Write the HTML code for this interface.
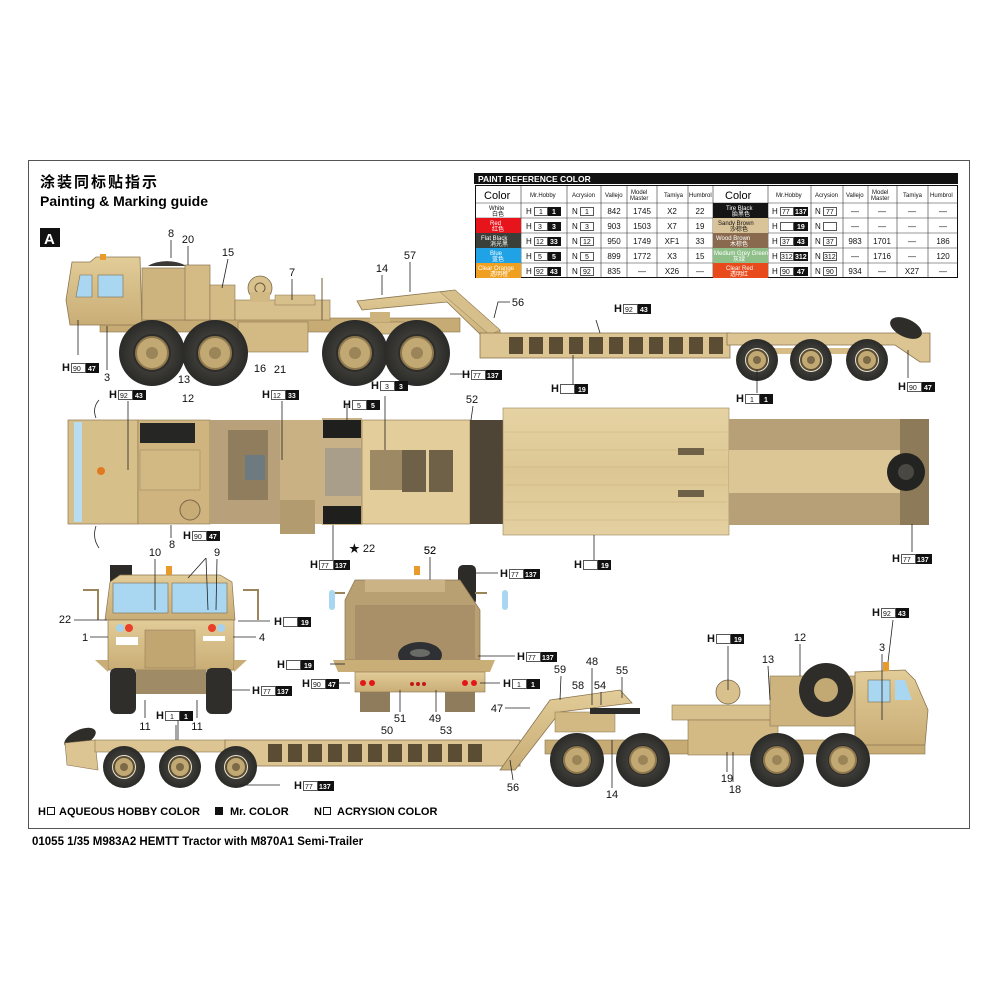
<!DOCTYPE html>
<html><head><meta charset="utf-8">
<style>
html,body{margin:0;padding:0;background:#fff;}
svg{display:block;}
text{font-family:"Liberation Sans","Noto Sans CJK SC",sans-serif;}
.n{font-size:11px;fill:#111;}
.hb{font-size:11px;font-weight:bold;fill:#111;}
.s{font-size:7px;fill:#111;}
.sw{font-size:7px;fill:#fff;font-weight:bold;}
.th{font-size:6px;fill:#111;}
.tc{font-size:8px;fill:#111;}
.ln{stroke:#222;stroke-width:0.8;fill:none;}
</style></head>
<body>
<svg width="1000" height="1000" viewBox="0 0 1000 1000" xmlns="http://www.w3.org/2000/svg">
<defs>
<radialGradient id="tire" cx="50%" cy="50%" r="50%">
<stop offset="0" stop-color="#55534c"/><stop offset="1" stop-color="#2a2a28"/></radialGradient>
<linearGradient id="tan" x1="0" y1="0" x2="0" y2="1">
<stop offset="0" stop-color="#e2cc98"/><stop offset="1" stop-color="#c9ad76"/></linearGradient>
<linearGradient id="wood" x1="0" y1="0" x2="0" y2="1">
<stop offset="0" stop-color="#e6d3a3"/><stop offset="0.5" stop-color="#dcc794"/><stop offset="1" stop-color="#e4d0a0"/></linearGradient>
<g id="bigwheel">
<circle r="33" fill="url(#tire)"/>
<circle r="19" fill="#2e2d2a"/>
<circle r="16" fill="#c2a872" stroke="#8d774d" stroke-width="2"/>
<circle r="6" fill="#9a8458"/>
</g>
<g id="midwheel">
<circle r="27" fill="url(#tire)"/>
<circle r="15" fill="#2e2d2a"/>
<circle r="13" fill="#c2a872" stroke="#8d774d" stroke-width="2"/>
<circle r="5" fill="#9a8458"/>
</g>
<g id="smwheel">
<circle r="21" fill="url(#tire)"/>
<circle r="12" fill="#eae4d0"/>
<circle r="10" fill="#c2a872" stroke="#5a4d34" stroke-width="2"/>
<circle r="4" fill="#7a6a48"/>
</g>
</defs>

<rect x="28.5" y="160.5" width="941" height="668" fill="none" stroke="#555" stroke-width="1"/>

<text x="40" y="187" style="font-size:15px;font-weight:bold;letter-spacing:2px">涂装同标贴指示</text>
<text x="40" y="206" style="font-size:14px;font-weight:bold">Painting &amp; Marking guide</text>
<rect x="40" y="228" width="20" height="19" fill="#111"/>
<text x="44" y="244" style="font-size:15px;font-weight:bold;fill:#fff">A</text>

<!-- PAINT TABLE -->
<rect x="474" y="173" width="484" height="11" fill="#111"/>
<text x="478" y="182" style="font-size:8.5px;font-weight:bold;fill:#fff">PAINT  REFERENCE COLOR</text>
<rect x="475.5" y="185.5" width="482" height="92" fill="#fff" stroke="#111"/>
<g stroke="#333" stroke-width="0.6">
<line x1="521" y1="186" x2="521" y2="278"/><line x1="567" y1="186" x2="567" y2="278"/>
<line x1="601" y1="186" x2="601" y2="278"/><line x1="627" y1="186" x2="627" y2="278"/>
<line x1="657" y1="186" x2="657" y2="278"/><line x1="688" y1="186" x2="688" y2="278"/>
<line x1="713" y1="186" x2="713" y2="278"/><line x1="768" y1="186" x2="768" y2="278"/>
<line x1="811" y1="186" x2="811" y2="278"/><line x1="843" y1="186" x2="843" y2="278"/>
<line x1="868" y1="186" x2="868" y2="278"/><line x1="897" y1="186" x2="897" y2="278"/>
<line x1="928" y1="186" x2="928" y2="278"/>
<line x1="476" y1="203" x2="958" y2="203"/><line x1="476" y1="218" x2="958" y2="218"/>
<line x1="476" y1="233" x2="958" y2="233"/><line x1="476" y1="248" x2="958" y2="248"/>
<line x1="476" y1="263" x2="958" y2="263"/>
</g>
<rect x="476" y="218" width="45" height="15" fill="#e8141c"/>
<rect x="476" y="233" width="45" height="15" fill="#3a3f39"/>
<rect x="476" y="248" width="45" height="15" fill="#1fa3e6"/>
<rect x="476" y="263" width="45" height="15" fill="#f0a020"/>
<rect x="713" y="203" width="55" height="15" fill="#151515"/>
<rect x="713" y="218" width="55" height="15" fill="#d9c49a"/>
<rect x="713" y="233" width="55" height="15" fill="#8a6a4e"/>
<rect x="713" y="248" width="55" height="15" fill="#8fc08a"/>
<rect x="713" y="263" width="55" height="15" fill="#e84a1c"/>
<text x="484" y="199" style="font-size:11px">Color</text>
<text x="530" y="197" class="th">Mr.Hobby</text>
<text x="572" y="197" class="th">Acrysion</text>
<text x="605" y="197" class="th">Vallejo</text>
<text x="631" y="194" class="th">Model</text><text x="630" y="200" class="th">Master</text>
<text x="664" y="197" class="th">Tamiya</text>
<text x="689" y="197" class="th">Humbrol</text>
<text x="725" y="199" style="font-size:11px">Color</text>
<text x="776" y="197" class="th">Mr.Hobby</text>
<text x="815" y="197" class="th">Acrysion</text>
<text x="846" y="197" class="th">Vallejo</text>
<text x="872" y="194" class="th">Model</text><text x="871" y="200" class="th">Master</text>
<text x="903" y="197" class="th">Tamiya</text>
<text x="930" y="197" class="th">Humbrol</text>
<text x="489" y="210" class="th">White</text><text x="492" y="216" class="th">白色</text>
<text x="490" y="225" class="th" style="fill:#fff">Red</text><text x="492" y="231" class="th" style="fill:#fff">红色</text>
<text x="481" y="240" class="th" style="fill:#fff">Flat Black</text><text x="490" y="246" class="th" style="fill:#fff">消光黑</text>
<text x="490" y="255" class="th" style="fill:#fff">Blue</text><text x="492" y="261" class="th" style="fill:#fff">蓝色</text>
<text x="478" y="270" class="th" style="fill:#fff">Clear Orange</text><text x="490" y="276" class="th" style="fill:#fff">透明橙</text>
<text x="726" y="210" class="th" style="fill:#fff">Tire Black</text><text x="732" y="216" class="th" style="fill:#fff">胎黑色</text>
<text x="718" y="225" class="th">Sandy Brown</text><text x="730" y="231" class="th">沙棕色</text>
<text x="716" y="240" class="th" style="fill:#fff">Wood Brown</text><text x="730" y="246" class="th" style="fill:#fff">木棕色</text>
<text x="714" y="255" class="th" style="fill:#fff">Medium Grey Green</text><text x="733" y="261" class="th" style="fill:#fff">灰绿</text>
<text x="726" y="270" class="th" style="fill:#fff">Clear Red</text><text x="730" y="276" class="th" style="fill:#fff">透明红</text>
<g class="tc">
<text x="526" y="214">H</text><rect x="534.5" y="207.5" width="13" height="8" fill="#fff" stroke="#111" stroke-width="0.7"/><rect x="548" y="207" width="13" height="9" fill="#111"/>
<text x="526" y="229">H</text><rect x="534.5" y="222.5" width="13" height="8" fill="#fff" stroke="#111" stroke-width="0.7"/><rect x="548" y="222" width="13" height="9" fill="#111"/>
<text x="526" y="244">H</text><rect x="534.5" y="237.5" width="13" height="8" fill="#fff" stroke="#111" stroke-width="0.7"/><rect x="548" y="237" width="13" height="9" fill="#111"/>
<text x="526" y="259">H</text><rect x="534.5" y="252.5" width="13" height="8" fill="#fff" stroke="#111" stroke-width="0.7"/><rect x="548" y="252" width="13" height="9" fill="#111"/>
<text x="526" y="274">H</text><rect x="534.5" y="267.5" width="13" height="8" fill="#fff" stroke="#111" stroke-width="0.7"/><rect x="548" y="267" width="13" height="9" fill="#111"/>
</g>
<g class="s">
<text x="539" y="214">1</text><text x="538" y="229">3</text><text x="536" y="244">12</text><text x="538" y="259">5</text><text x="536" y="274">92</text>
</g>
<g class="sw">
<text x="552" y="214">1</text><text x="552" y="229">3</text><text x="550" y="244">33</text><text x="552" y="259">5</text><text x="550" y="274">43</text>
</g>
<g class="tc">
<text x="572" y="214">N</text><rect x="580.5" y="207.5" width="13" height="8" fill="#fff" stroke="#111" stroke-width="0.7"/>
<text x="572" y="229">N</text><rect x="580.5" y="222.5" width="13" height="8" fill="#fff" stroke="#111" stroke-width="0.7"/>
<text x="572" y="244">N</text><rect x="580.5" y="237.5" width="13" height="8" fill="#fff" stroke="#111" stroke-width="0.7"/>
<text x="572" y="259">N</text><rect x="580.5" y="252.5" width="13" height="8" fill="#fff" stroke="#111" stroke-width="0.7"/>
<text x="572" y="274">N</text><rect x="580.5" y="267.5" width="13" height="8" fill="#fff" stroke="#111" stroke-width="0.7"/>
</g>
<g class="s"><text x="585" y="214">1</text><text x="585" y="229">3</text><text x="583" y="244">12</text><text x="585" y="259">5</text><text x="583" y="274">92</text></g>
<g class="tc" text-anchor="middle">
<text x="614" y="214">842</text><text x="642" y="214">1745</text><text x="672" y="214">X2</text><text x="700" y="214">22</text>
<text x="614" y="229">903</text><text x="642" y="229">1503</text><text x="672" y="229">X7</text><text x="700" y="229">19</text>
<text x="614" y="244">950</text><text x="642" y="244">1749</text><text x="672" y="244">XF1</text><text x="700" y="244">33</text>
<text x="614" y="259">899</text><text x="642" y="259">1772</text><text x="672" y="259">X3</text><text x="700" y="259">15</text>
<text x="614" y="274">835</text><text x="642" y="274">—</text><text x="672" y="274">X26</text><text x="700" y="274">—</text>
</g>
<g class="tc">
<text x="772" y="214">H</text><rect x="780.5" y="207.5" width="13" height="8" fill="#fff" stroke="#111" stroke-width="0.7"/><rect x="794" y="207" width="14" height="9" fill="#111"/>
<text x="772" y="229">H</text><rect x="780.5" y="222.5" width="13" height="8" fill="#fff" stroke="#111" stroke-width="0.7"/><rect x="794" y="222" width="14" height="9" fill="#111"/>
<text x="772" y="244">H</text><rect x="780.5" y="237.5" width="13" height="8" fill="#fff" stroke="#111" stroke-width="0.7"/><rect x="794" y="237" width="14" height="9" fill="#111"/>
<text x="772" y="259">H</text><rect x="780.5" y="252.5" width="13" height="8" fill="#fff" stroke="#111" stroke-width="0.7"/><rect x="794" y="252" width="14" height="9" fill="#111"/>
<text x="772" y="274">H</text><rect x="780.5" y="267.5" width="13" height="8" fill="#fff" stroke="#111" stroke-width="0.7"/><rect x="794" y="267" width="14" height="9" fill="#111"/>
</g>
<g class="s"><text x="782" y="214">77</text><text x="782" y="244">37</text><text x="781" y="259">312</text><text x="782" y="274">90</text></g>
<g class="sw"><text x="795" y="214">137</text><text x="797" y="229">19</text><text x="797" y="244">43</text><text x="795" y="259">312</text><text x="797" y="274">47</text></g>
<g class="tc">
<text x="815" y="214">N</text><rect x="823.5" y="207.5" width="13" height="8" fill="#fff" stroke="#111" stroke-width="0.7"/>
<text x="815" y="229">N</text><rect x="823.5" y="222.5" width="13" height="8" fill="#fff" stroke="#111" stroke-width="0.7"/>
<text x="815" y="244">N</text><rect x="823.5" y="237.5" width="13" height="8" fill="#fff" stroke="#111" stroke-width="0.7"/>
<text x="815" y="259">N</text><rect x="823.5" y="252.5" width="13" height="8" fill="#fff" stroke="#111" stroke-width="0.7"/>
<text x="815" y="274">N</text><rect x="823.5" y="267.5" width="13" height="8" fill="#fff" stroke="#111" stroke-width="0.7"/>
</g>
<g class="s"><text x="826" y="214">77</text><text x="826" y="244">37</text><text x="824" y="259">312</text><text x="826" y="274">90</text></g>
<g class="tc" text-anchor="middle">
<text x="855" y="214">—</text><text x="882" y="214">—</text><text x="912" y="214">—</text><text x="943" y="214">—</text>
<text x="855" y="229">—</text><text x="882" y="229">—</text><text x="912" y="229">—</text><text x="943" y="229">—</text>
<text x="855" y="244">983</text><text x="882" y="244">1701</text><text x="912" y="244">—</text><text x="943" y="244">186</text>
<text x="855" y="259">—</text><text x="882" y="259">1716</text><text x="912" y="259">—</text><text x="943" y="259">120</text>
<text x="855" y="274">934</text><text x="882" y="274">—</text><text x="912" y="274">X27</text><text x="943" y="274">—</text>
</g>

<!-- ================= TOP SIDE VIEW ================= -->
<g>
<rect x="100" y="318" width="360" height="14" fill="#c7ab74" stroke="#8a7550" stroke-width="0.6"/>
<path d="M72 262 L90 262 L96 257 L140 257 L142 325 L70 325 L66 300 Z" fill="url(#tan)" stroke="#8a7550" stroke-width="0.8"/>
<path d="M80 275 L92 275 L92 297 L76 297 Z" fill="#a9d6f0" stroke="#7d6d4e" stroke-width="0.6"/>
<rect x="98" y="275" width="25" height="22" fill="#a9d6f0" stroke="#7d6d4e" stroke-width="0.6"/>
<rect x="100" y="254" width="6" height="6" fill="#e89a2a"/>
<rect x="142" y="268" width="50" height="52" fill="#cdb37e" stroke="#8a7550" stroke-width="0.7"/>
<path d="M148 266 A25 14 0 0 1 186 266 Z" fill="#3a3936"/>
<rect x="185" y="265" width="25" height="55" fill="#d4bb86" stroke="#8a7550" stroke-width="0.7"/>
<rect x="210" y="285" width="25" height="35" fill="#d4bb86" stroke="#8a7550" stroke-width="0.6"/>
<rect x="235" y="300" width="95" height="20" fill="#d8c08c" stroke="#8a7550" stroke-width="0.6"/>
<circle cx="260" cy="288" r="12" fill="#d9c18d" stroke="#7a6748" stroke-width="0.8"/>
<circle cx="260" cy="288" r="5" fill="none" stroke="#6a5a3c"/>
<rect x="250" y="292" width="20" height="10" fill="#d2b983"/>
<rect x="275" y="295" width="40" height="10" fill="#d8c08c" stroke="#8a7550" stroke-width="0.5"/>
<line x1="322" y1="278" x2="322" y2="320" stroke="#6f5d3e"/>
<rect x="238" y="322" width="70" height="30" fill="#d3ba85" stroke="#8a7550" stroke-width="0.6"/>
<rect x="345" y="322" width="60" height="12" fill="#d2b883" stroke="#8a7550" stroke-width="0.6"/>
<rect x="370" y="312" width="20" height="10" fill="#cdb37e"/>
<use href="#bigwheel" x="152" y="353"/>
<use href="#bigwheel" x="215" y="353"/>
<use href="#bigwheel" x="355" y="353"/>
<use href="#bigwheel" x="417" y="353"/>
<path d="M357 301 L455 290 L500 330 L500 342 L488 342 L447 302 L362 310 Z" fill="url(#tan)" stroke="#8a7550" stroke-width="0.8"/>
<path d="M440 292 L455 290 L500 330 L490 335 Z" fill="#d6bf8b" stroke="#8a7550" stroke-width="0.5"/>
</g>
<rect x="480" y="333" width="250" height="25" fill="#dcc592" stroke="#8a7550" stroke-width="0.8"/>
<g fill="#5a4d34">
<rect x="509" y="337" width="14" height="17"/><rect x="529" y="337" width="14" height="17"/><rect x="549" y="337" width="14" height="17"/>
<rect x="569" y="337" width="14" height="17"/><rect x="589" y="337" width="14" height="17"/><rect x="609" y="337" width="14" height="17"/>
<rect x="629" y="337" width="14" height="17"/><rect x="649" y="337" width="14" height="17"/><rect x="669" y="337" width="14" height="17"/>
<rect x="689" y="337" width="14" height="17"/><rect x="709" y="337" width="14" height="17"/>
</g>
<path d="M727 333 L930 333 L930 362 L920 362 L895 345 L727 345 Z" fill="#dcc592" stroke="#8a7550" stroke-width="0.8"/>
<rect x="745" y="348" width="130" height="6" fill="#d6bd88"/>
<use href="#smwheel" x="757" y="360"/>
<use href="#smwheel" x="811" y="360"/>
<use href="#smwheel" x="867" y="360"/>
<ellipse cx="906" cy="328" rx="17" ry="9" transform="rotate(25 906 328)" fill="#2e2d2a"/>

<g class="n" text-anchor="middle">
<text x="171" y="237">8</text><text x="188" y="243">20</text><text x="228" y="256">15</text>
<text x="292" y="276">7</text><text x="382" y="272">14</text><text x="410" y="259">57</text>
<text x="518" y="306">56</text><text x="107" y="381">3</text><text x="184" y="383">13</text>
<text x="260" y="372">16</text><text x="280" y="373">21</text>
</g>
<g class="ln">
<line x1="171" y1="240" x2="171" y2="258"/><line x1="188" y1="246" x2="188" y2="265"/>
<line x1="228" y1="259" x2="222" y2="288"/><line x1="292" y1="279" x2="292" y2="300"/>
<line x1="382" y1="275" x2="382" y2="295"/><line x1="410" y1="262" x2="410" y2="292"/>
<polyline points="510,302 498,302 494,318"/><line x1="107" y1="370" x2="107" y2="326"/>
<line x1="78" y1="355" x2="78" y2="320"/><line x1="450" y1="374" x2="470" y2="374"/>
<line x1="596" y1="320" x2="600" y2="333"/><line x1="573" y1="385" x2="573" y2="355"/>
<line x1="757" y1="393" x2="757" y2="370"/><line x1="908" y1="378" x2="908" y2="350"/>
</g>

<g><text x="62" y="371" class="hb">H</text><rect x="71.5" y="363.5" width="14" height="9" fill="#fff" stroke="#111" stroke-width="0.7"/><text x="73" y="371" class="s">90</text><rect x="86" y="363" width="13" height="10" fill="#111"/><text x="88" y="371" class="sw">47</text></g>
<g><text x="462" y="378" class="hb">H</text><rect x="471.5" y="370.5" width="14" height="9" fill="#fff" stroke="#111" stroke-width="0.7"/><text x="473" y="378" class="s">77</text><rect x="486" y="370" width="16" height="10" fill="#111"/><text x="487" y="378" class="sw">137</text></g>
<g><text x="614" y="312" class="hb">H</text><rect x="623.5" y="304.5" width="14" height="9" fill="#fff" stroke="#111" stroke-width="0.7"/><text x="625" y="312" class="s">92</text><rect x="638" y="304" width="13" height="10" fill="#111"/><text x="640" y="312" class="sw">43</text></g>
<g><text x="551" y="392" class="hb">H</text><rect x="560.5" y="384.5" width="14" height="9" fill="#fff" stroke="#111" stroke-width="0.7"/><rect x="575" y="384" width="13" height="10" fill="#111"/><text x="578" y="392" class="sw">19</text></g>
<g><text x="736" y="402" class="hb">H</text><rect x="745.5" y="394.5" width="14" height="9" fill="#fff" stroke="#111" stroke-width="0.7"/><text x="750" y="402" class="s">1</text><rect x="760" y="394" width="13" height="10" fill="#111"/><text x="764" y="402" class="sw">1</text></g>
<g><text x="898" y="390" class="hb">H</text><rect x="907.5" y="382.5" width="14" height="9" fill="#fff" stroke="#111" stroke-width="0.7"/><text x="909" y="390" class="s">90</text><rect x="922" y="382" width="13" height="10" fill="#111"/><text x="924" y="390" class="sw">47</text></g>

<!-- ================= TOP VIEW ================= -->
<rect x="68" y="420" width="70" height="104" fill="#d7bf8a" stroke="#8a7550" stroke-width="0.7"/>
<rect x="74" y="422" width="8" height="100" fill="#b8dcf0"/>
<circle cx="101" cy="471" r="4" fill="#e07a20"/>
<rect x="138" y="420" width="72" height="104" fill="#cfb47f" stroke="#8a7550" stroke-width="0.6"/>
<rect x="140" y="423" width="55" height="20" fill="#262624"/>
<rect x="140" y="450" width="60" height="40" fill="#d2b984" stroke="#9a845a" stroke-width="0.5"/>
<circle cx="190" cy="510" r="10" fill="#c7ac76" stroke="#7a6748"/>
<rect x="210" y="420" width="70" height="104" fill="#b7a07a"/>
<rect x="228" y="430" width="40" height="70" fill="#8f7d5e"/>
<rect x="245" y="455" width="20" height="25" fill="#6d7a80"/>
<rect x="280" y="420" width="42" height="104" fill="#c9b184"/>
<rect x="280" y="500" width="35" height="34" fill="#b39b70"/>
<rect x="322" y="418" width="40" height="107" fill="#c8b087"/>
<rect x="323" y="420" width="38" height="18" fill="#1f1f1e"/>
<rect x="323" y="506" width="38" height="18" fill="#1f1f1e"/>
<rect x="325" y="448" width="36" height="48" fill="#a99e8a"/>
<rect x="362" y="420" width="108" height="104" fill="#e2cd9b" stroke="#8a7550" stroke-width="0.6"/>
<rect x="370" y="450" width="35" height="40" fill="#9d8a64"/>
<rect x="402" y="450" width="24" height="42" fill="#6f6048"/>
<rect x="429" y="450" width="24" height="42" fill="#6f6048"/>
<rect x="470" y="420" width="33" height="104" fill="#4f4536"/>
<rect x="503" y="408" width="226" height="127" fill="url(#wood)" stroke="#9a845a" stroke-width="0.6"/>
<g stroke="#c8b07d" stroke-width="0.6">
<line x1="505" y1="432" x2="727" y2="432"/><line x1="505" y1="450" x2="727" y2="450"/>
<line x1="505" y1="467" x2="727" y2="467"/><line x1="505" y1="485" x2="727" y2="485"/>
<line x1="505" y1="502" x2="727" y2="502"/><line x1="505" y1="520" x2="727" y2="520"/>
</g>
<rect x="678" y="448" width="26" height="7" fill="#6f6048"/><rect x="678" y="490" width="26" height="7" fill="#6f6048"/>
<rect x="729" y="419" width="171" height="31" fill="#b7a077"/>
<rect x="729" y="450" width="171" height="43" fill="#dcc695"/>
<rect x="729" y="493" width="171" height="32" fill="#b7a077"/>
<rect x="900" y="419" width="29" height="106" fill="#8d7a58"/>
<circle cx="906" cy="472" r="19" fill="#232321"/>
<circle cx="906" cy="472" r="8" fill="#4a4843"/>
<path d="M96 418 Q92 408 99 400" class="ln"/><path d="M96 526 Q92 538 99 548" class="ln"/>

<g class="n" text-anchor="middle">
<text x="188" y="402">12</text><text x="472" y="403">52</text><text x="172" y="548">8</text>
<text x="362" y="552">★ 22</text><text x="430" y="554">52</text>
</g>
<g class="ln">
<line x1="128" y1="401" x2="128" y2="470"/><line x1="282" y1="401" x2="282" y2="460"/>
<line x1="347" y1="405" x2="347" y2="420"/><line x1="473" y1="406" x2="471" y2="420"/>
<line x1="171" y1="525" x2="171" y2="538"/><line x1="333" y1="525" x2="333" y2="560"/>
<line x1="594" y1="535" x2="594" y2="560"/><line x1="912" y1="524" x2="912" y2="552"/>
<line x1="385" y1="396" x2="385" y2="450"/>
</g>
<g><text x="109" y="398" class="hb">H</text><rect x="118.5" y="390.5" width="14" height="9" fill="#fff" stroke="#111" stroke-width="0.7"/><text x="120" y="398" class="s">92</text><rect x="133" y="390" width="13" height="10" fill="#111"/><text x="135" y="398" class="sw">43</text></g>
<g><text x="262" y="398" class="hb">H</text><rect x="271.5" y="390.5" width="14" height="9" fill="#fff" stroke="#111" stroke-width="0.7"/><text x="273" y="398" class="s">12</text><rect x="286" y="390" width="13" height="10" fill="#111"/><text x="288" y="398" class="sw">33</text></g>
<g><text x="343" y="408" class="hb">H</text><rect x="352.5" y="400.5" width="14" height="9" fill="#fff" stroke="#111" stroke-width="0.7"/><text x="357" y="408" class="s">5</text><rect x="367" y="400" width="13" height="10" fill="#111"/><text x="371" y="408" class="sw">5</text></g>
<g><text x="371" y="389" class="hb">H</text><rect x="380.5" y="381.5" width="14" height="9" fill="#fff" stroke="#111" stroke-width="0.7"/><text x="385" y="389" class="s">3</text><rect x="395" y="381" width="13" height="10" fill="#111"/><text x="399" y="389" class="sw">3</text></g>
<g><text x="183" y="539" class="hb">H</text><rect x="192.5" y="531.5" width="14" height="9" fill="#fff" stroke="#111" stroke-width="0.7"/><text x="194" y="539" class="s">90</text><rect x="207" y="531" width="13" height="10" fill="#111"/><text x="209" y="539" class="sw">47</text></g>
<g><text x="310" y="568" class="hb">H</text><rect x="319.5" y="560.5" width="14" height="9" fill="#fff" stroke="#111" stroke-width="0.7"/><text x="321" y="568" class="s">77</text><rect x="334" y="560" width="16" height="10" fill="#111"/><text x="335" y="568" class="sw">137</text></g>
<g><text x="574" y="568" class="hb">H</text><rect x="583.5" y="560.5" width="14" height="9" fill="#fff" stroke="#111" stroke-width="0.7"/><rect x="598" y="560" width="13" height="10" fill="#111"/><text x="601" y="568" class="sw">19</text></g>
<g><text x="892" y="562" class="hb">H</text><rect x="901.5" y="554.5" width="14" height="9" fill="#fff" stroke="#111" stroke-width="0.7"/><text x="903" y="562" class="s">77</text><rect x="916" y="554" width="16" height="10" fill="#111"/><text x="917" y="562" class="sw">137</text></g>

<!-- ================= FRONT VIEW ================= -->
<rect x="110" y="565" width="22" height="20" fill="#2c2b28"/>
<path d="M110 582 L120 575 L220 575 L232 582 L235 620 L105 620 Z" fill="url(#tan)" stroke="#8a7550" stroke-width="0.7"/>
<rect x="113" y="583" width="55" height="30" fill="#a9d6f0" stroke="#7d6d4e" stroke-width="0.6"/>
<rect x="172" y="583" width="55" height="30" fill="#a9d6f0" stroke="#7d6d4e" stroke-width="0.6"/>
<rect x="166" y="566" width="6" height="9" fill="#e89a2a"/>
<path d="M83 590 L98 590 L98 620 M243 590 L258 590 L258 620" stroke="#9a845a" stroke-width="2" fill="none"/>
<rect x="108" y="620" width="126" height="50" fill="url(#tan)" stroke="#8a7550" stroke-width="0.7"/>
<rect x="145" y="630" width="50" height="38" fill="#c2a672" stroke="#8a7550" stroke-width="0.5"/>
<circle cx="120" cy="628" r="4" fill="#a6d2ee"/><circle cx="129" cy="628" r="4" fill="#e8402a"/>
<circle cx="212" cy="628" r="4" fill="#e8402a"/><circle cx="221" cy="628" r="4" fill="#a6d2ee"/>
<rect x="116" y="637" width="22" height="8" fill="#fff"/><rect x="203" y="636" width="22" height="5" fill="#fff"/>
<path d="M95 660 L108 660 L108 672 Z M247 660 L234 660 L234 672 Z" fill="#c9ae78"/>
<rect x="110" y="668" width="26" height="46" rx="6" fill="#2f2e2b"/>
<rect x="206" y="668" width="26" height="46" rx="6" fill="#2f2e2b"/>
<rect x="136" y="670" width="70" height="24" fill="#9f8b66"/>
<g class="n" text-anchor="middle">
<text x="155" y="556">10</text><text x="217" y="556">9</text>
<text x="65" y="623">22</text><text x="85" y="641">1</text><text x="262" y="641">4</text>
<text x="145" y="730">11</text><text x="197" y="730">11</text>
</g>
<g class="ln">
<line x1="155" y1="559" x2="155" y2="610"/><line x1="206" y1="558" x2="188" y2="578"/>
<line x1="206" y1="558" x2="208" y2="610"/><line x1="217" y1="559" x2="216" y2="610"/>
<line x1="74" y1="620" x2="107" y2="620"/><line x1="90" y1="637" x2="108" y2="637"/>
<line x1="233" y1="637" x2="256" y2="637"/><line x1="238" y1="621" x2="270" y2="621"/>
<line x1="145" y1="718" x2="145" y2="700"/><line x1="197" y1="718" x2="197" y2="700"/>
<line x1="232" y1="690" x2="250" y2="690"/><line x1="178" y1="718" x2="178" y2="740"/>
</g>
<g><text x="274" y="625" class="hb">H</text><rect x="283.5" y="617.5" width="14" height="9" fill="#fff" stroke="#111" stroke-width="0.7"/><rect x="298" y="617" width="13" height="10" fill="#111"/><text x="301" y="625" class="sw">19</text></g>
<g><text x="252" y="694" class="hb">H</text><rect x="261.5" y="686.5" width="14" height="9" fill="#fff" stroke="#111" stroke-width="0.7"/><text x="263" y="694" class="s">77</text><rect x="276" y="686" width="16" height="10" fill="#111"/><text x="277" y="694" class="sw">137</text></g>
<g><text x="156" y="719" class="hb">H</text><rect x="165.5" y="711.5" width="14" height="9" fill="#fff" stroke="#111" stroke-width="0.7"/><text x="170" y="719" class="s">1</text><rect x="180" y="711" width="13" height="10" fill="#111"/><text x="184" y="719" class="sw">1</text></g>

<!-- ================= REAR VIEW ================= -->
<rect x="458" y="565" width="18" height="40" rx="5" fill="#2c2b28"/>
<path d="M355 580 L460 580 L480 610 L480 660 L345 660 L345 600 Z" fill="#b9a073" stroke="#8a7550" stroke-width="0.7"/>
<rect x="365" y="580" width="80" height="12" fill="#cbb386"/>
<rect x="355" y="605" width="120" height="55" fill="#a99068"/>
<ellipse cx="420" cy="655" rx="22" ry="13" fill="#2e3033"/>
<ellipse cx="420" cy="653" rx="10" ry="4" fill="#6a6a66"/>
<path d="M333 593 L345 593 M475 593 L487 593" stroke="#9a845a" stroke-width="2"/>
<rect x="329" y="590" width="6" height="20" rx="3" fill="#a9d6f0"/><rect x="502" y="590" width="6" height="20" rx="3" fill="#a9d6f0"/>
<rect x="414" y="566" width="6" height="9" fill="#e89a2a"/>
<path d="M333 660 L495 660 L490 672 L338 672 Z" fill="#c9ae78"/>
<rect x="355" y="672" width="130" height="20" fill="url(#tan)" stroke="#8a7550" stroke-width="0.6"/>
<circle cx="363" cy="683" r="3" fill="#e21818"/><circle cx="372" cy="683" r="3" fill="#e21818"/>
<circle cx="465" cy="683" r="3" fill="#e21818"/><circle cx="474" cy="683" r="3" fill="#e21818"/>
<circle cx="412" cy="684" r="2" fill="#c21818"/><circle cx="418" cy="684" r="2" fill="#c21818"/><circle cx="424" cy="684" r="2" fill="#c21818"/>
<rect x="360" y="692" width="30" height="20" fill="#8f7c5c"/><rect x="445" y="692" width="30" height="20" fill="#8f7c5c"/>
<g class="n" text-anchor="middle">
<text x="430" y="554">52</text><text x="400" y="722">51</text><text x="435" y="722">49</text>
<text x="387" y="734">50</text><text x="446" y="734">53</text>
</g>
<g class="ln">
<line x1="430" y1="557" x2="430" y2="580"/><line x1="476" y1="573" x2="498" y2="573"/>
<line x1="478" y1="656" x2="515" y2="656"/><line x1="480" y1="683" x2="500" y2="683"/>
<line x1="338" y1="683" x2="350" y2="683"/><line x1="330" y1="664" x2="345" y2="664"/>
<line x1="400" y1="712" x2="400" y2="690"/><line x1="436" y1="712" x2="436" y2="690"/>
</g>
<g><text x="500" y="577" class="hb">H</text><rect x="509.5" y="569.5" width="14" height="9" fill="#fff" stroke="#111" stroke-width="0.7"/><text x="511" y="577" class="s">77</text><rect x="524" y="569" width="16" height="10" fill="#111"/><text x="525" y="577" class="sw">137</text></g>
<g><text x="517" y="660" class="hb">H</text><rect x="526.5" y="652.5" width="14" height="9" fill="#fff" stroke="#111" stroke-width="0.7"/><text x="528" y="660" class="s">77</text><rect x="541" y="652" width="16" height="10" fill="#111"/><text x="542" y="660" class="sw">137</text></g>
<g><text x="503" y="687" class="hb">H</text><rect x="512.5" y="679.5" width="14" height="9" fill="#fff" stroke="#111" stroke-width="0.7"/><text x="517" y="687" class="s">1</text><rect x="527" y="679" width="13" height="10" fill="#111"/><text x="531" y="687" class="sw">1</text></g>
<g><text x="277" y="668" class="hb">H</text><rect x="286.5" y="660.5" width="14" height="9" fill="#fff" stroke="#111" stroke-width="0.7"/><rect x="301" y="660" width="13" height="10" fill="#111"/><text x="304" y="668" class="sw">19</text></g>
<g><text x="302" y="687" class="hb">H</text><rect x="311.5" y="679.5" width="14" height="9" fill="#fff" stroke="#111" stroke-width="0.7"/><text x="313" y="687" class="s">90</text><rect x="326" y="679" width="13" height="10" fill="#111"/><text x="328" y="687" class="sw">47</text></g>

<!-- ================= BOTTOM SIDE VIEW ================= -->
<ellipse cx="80" cy="738" rx="17" ry="8" transform="rotate(-25 80 738)" fill="#2e2d2a"/>
<path d="M65 743 L95 740 L98 770 L67 765 Z" fill="#dcc592" stroke="#8a7550" stroke-width="0.6"/>
<rect x="95" y="740" width="132" height="12" fill="#dcc592" stroke="#8a7550" stroke-width="0.6"/>
<rect x="225" y="740" width="295" height="26" fill="#dcc592" stroke="#8a7550" stroke-width="0.8"/>
<g fill="#5a4d34">
<rect x="268" y="744" width="14" height="18"/><rect x="288" y="744" width="14" height="18"/><rect x="308" y="744" width="14" height="18"/>
<rect x="328" y="744" width="14" height="18"/><rect x="348" y="744" width="14" height="18"/><rect x="368" y="744" width="14" height="18"/>
<rect x="388" y="744" width="14" height="18"/><rect x="408" y="744" width="14" height="18"/><rect x="428" y="744" width="14" height="18"/>
<rect x="448" y="744" width="14" height="18"/><rect x="468" y="744" width="14" height="18"/>
</g>
<use href="#smwheel" x="124" y="767"/>
<use href="#smwheel" x="180" y="767"/>
<use href="#smwheel" x="236" y="767"/>
<path d="M500 770 L550 700 L620 690 L632 703 L560 712 L515 770 Z" fill="url(#tan)" stroke="#8a7550" stroke-width="0.8"/>
<rect x="555" y="712" width="60" height="20" fill="#d2b883" stroke="#8a7550" stroke-width="0.5"/>
<rect x="590" y="708" width="50" height="6" fill="#2c2c2a"/>
<rect x="545" y="740" width="380" height="14" fill="#c7ab74" stroke="#8a7550" stroke-width="0.6"/>
<rect x="672" y="705" width="100" height="15" fill="#d8c08c" stroke="#8a7550" stroke-width="0.6"/>
<circle cx="728" cy="692" r="12" fill="#d9c18d" stroke="#7a6748" stroke-width="0.8"/>
<rect x="688" y="720" width="90" height="35" fill="#d3ba85" stroke="#8a7550" stroke-width="0.6"/>
<rect x="770" y="676" width="85" height="50" fill="#cdb37e" stroke="#8a7550" stroke-width="0.6"/>
<circle cx="826" cy="690" r="27" fill="#2e2d2a"/>
<circle cx="826" cy="690" r="12" fill="#c2a872"/>
<path d="M855 672 L905 670 L915 680 L928 710 L925 745 L855 745 Z" fill="url(#tan)" stroke="#8a7550" stroke-width="0.8"/>
<rect x="868" y="680" width="22" height="22" fill="#a9d6f0" stroke="#7d6d4e" stroke-width="0.6"/>
<path d="M895 680 L905 680 L912 700 L895 700 Z" fill="#a9d6f0"/>
<rect x="883" y="662" width="6" height="9" fill="#e89a2a"/>
<use href="#midwheel" x="577" y="760"/>
<use href="#midwheel" x="643" y="760"/>
<use href="#midwheel" x="777" y="760"/>
<use href="#midwheel" x="843" y="760"/>
<g class="n" text-anchor="middle">
<text x="560" y="673">59</text><text x="592" y="665">48</text><text x="578" y="689">58</text>
<text x="600" y="689">54</text><text x="622" y="674">55</text><text x="497" y="712">47</text>
<text x="513" y="791">56</text><text x="612" y="798">14</text><text x="727" y="782">19</text>
<text x="735" y="793">18</text><text x="768" y="663">13</text><text x="800" y="641">12</text>
<text x="882" y="651">3</text>
</g>
<g class="ln">
<line x1="561" y1="676" x2="560" y2="700"/><line x1="592" y1="668" x2="592" y2="705"/>
<line x1="601" y1="692" x2="601" y2="705"/><line x1="622" y1="677" x2="622" y2="698"/>
<line x1="505" y1="708" x2="530" y2="708"/><line x1="513" y1="780" x2="510" y2="760"/>
<line x1="612" y1="788" x2="612" y2="740"/><line x1="727" y1="772" x2="727" y2="752"/>
<line x1="733" y1="782" x2="733" y2="752"/><line x1="768" y1="666" x2="770" y2="700"/>
<line x1="800" y1="644" x2="800" y2="676"/><line x1="882" y1="654" x2="882" y2="720"/>
<line x1="728" y1="646" x2="728" y2="690"/><line x1="893" y1="620" x2="888" y2="662"/>
<line x1="280" y1="785" x2="240" y2="785"/><line x1="176" y1="725" x2="176" y2="740"/>
</g>
<g><text x="707" y="642" class="hb">H</text><rect x="716.5" y="634.5" width="14" height="9" fill="#fff" stroke="#111" stroke-width="0.7"/><rect x="731" y="634" width="13" height="10" fill="#111"/><text x="734" y="642" class="sw">19</text></g>
<g><text x="872" y="616" class="hb">H</text><rect x="881.5" y="608.5" width="14" height="9" fill="#fff" stroke="#111" stroke-width="0.7"/><text x="883" y="616" class="s">92</text><rect x="896" y="608" width="13" height="10" fill="#111"/><text x="898" y="616" class="sw">43</text></g>
<g><text x="294" y="789" class="hb">H</text><rect x="303.5" y="781.5" width="14" height="9" fill="#fff" stroke="#111" stroke-width="0.7"/><text x="305" y="789" class="s">77</text><rect x="318" y="781" width="16" height="10" fill="#111"/><text x="319" y="789" class="sw">137</text></g>

<text x="38" y="815" style="font-size:11px;font-weight:bold">H</text>
<rect x="47.5" y="807.5" width="7" height="7" fill="#fff" stroke="#111"/>
<text x="59" y="815" style="font-size:11px;font-weight:bold">AQUEOUS HOBBY COLOR</text>
<rect x="215" y="807" width="8" height="8" fill="#111"/>
<text x="230" y="815" style="font-size:11px;font-weight:bold">Mr. COLOR</text>
<text x="314" y="815" style="font-size:11px;font-weight:bold">N</text>
<rect x="323.5" y="807.5" width="7" height="7" fill="#fff" stroke="#111"/>
<text x="337" y="815" style="font-size:11px;font-weight:bold">ACRYSION COLOR</text>

<text x="32" y="845" style="font-size:11.5px;font-weight:bold">01055  1/35  M983A2 HEMTT Tractor with M870A1 Semi-Trailer</text>
</svg>
</body></html>
